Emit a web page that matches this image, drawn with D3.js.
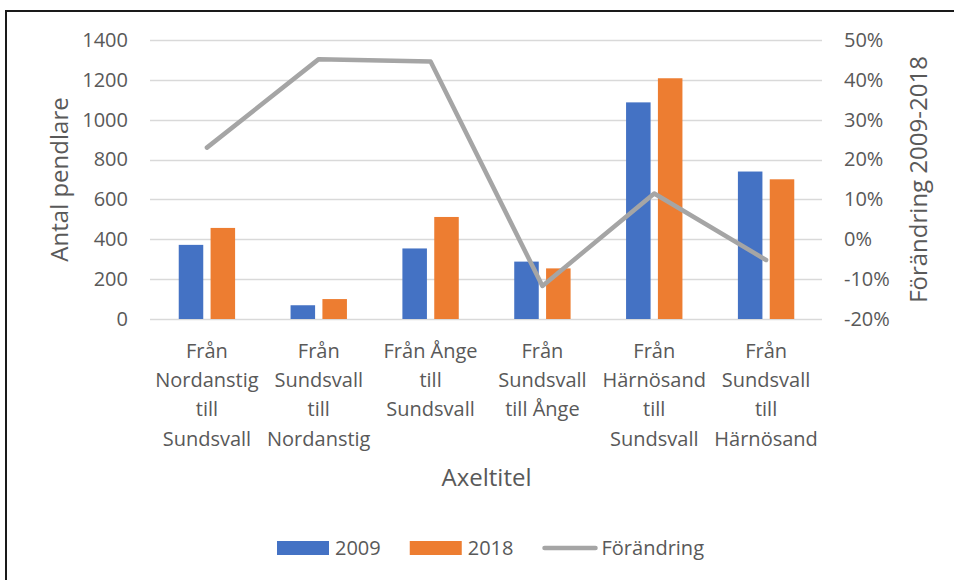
<!DOCTYPE html>
<html>
<head>
<meta charset="utf-8">
<style>
  body { margin: 0; background: #fff; }
  text { font-family: "Open Sans", sans-serif; fill: #595959; }
</style>
</head>
<body>
<svg id="chart" width="954" height="580"></svg>
<script src="https://d3js.org/d3.v7.min.js"></script>
<script>

var categories = [
  ["Från", "Nordanstig", "till", "Sundsvall"],
  ["Från", "Sundsvall", "till", "Nordanstig"],
  ["Från Ånge", "till", "Sundsvall"],
  ["Från", "Sundsvall", "till Ånge"],
  ["Från", "Härnösand", "till", "Sundsvall"],
  ["Från", "Sundsvall", "till", "Härnösand"]
];
var series = ["2009", "2018"];
var values2009 = [372, 69, 354, 288, 1087, 740];
var values2018 = [457, 100, 512, 254, 1208, 701];
var change = [0.23, 0.452, 0.446, -0.117, 0.115, -0.052];
var leftTicks = [0, 200, 400, 600, 800, 1000, 1200, 1400];
var rightTicks = [-0.2, -0.1, 0, 0.1, 0.2, 0.3, 0.4, 0.5];

var colors = { "2009": "#4472C4", "2018": "#ED7D31" },
    lineColor = "#A5A5A5";

var plotLeft = 151, plotRight = 822, plotTop = 40, plotBottom = 319;

var svg = d3.select("#chart");

// frame
svg.append("rect")
    .attr("x", 6).attr("y", 11)
    .attr("width", 1000).attr("height", 700)
    .attr("fill", "none")
    .attr("stroke", "#1a1a1a")
    .attr("stroke-width", 2);

var idx = d3.range(categories.length);

var x0 = d3.scaleBand()
    .domain(idx)
    .range([plotLeft, plotRight])
    .paddingInner(0.496)
    .paddingOuter(0.248);

var x1 = d3.scaleBand()
    .domain(series)
    .range([0, x0.bandwidth()])
    .paddingInner(0.23);

var y = d3.scaleLinear().domain([0, 1400]).range([plotBottom, plotTop]);
var y2 = d3.scaleLinear().domain([-0.2, 0.5]).range([plotBottom, plotTop]);

// gridlines
svg.append("g").selectAll("line")
    .data(leftTicks)
  .enter().append("line")
    .attr("x1", plotLeft - 1).attr("x2", plotRight)
    .attr("y1", function(d) { return Math.round(y(d)) + 0.5; })
    .attr("y2", function(d) { return Math.round(y(d)) + 0.5; })
    .attr("stroke", "#D9D9D9")
    .attr("stroke-width", 1.3);

// left axis
var yAxis = svg.append("g")
    .attr("transform", "translate(128,0)")
    .call(d3.axisLeft(y).tickValues(leftTicks).tickSize(0).tickPadding(0)
      .tickFormat(d3.format("d")));
yAxis.select(".domain").remove();
yAxis.selectAll("text").style("font-size", "20px").attr("fill", "#595959")
    .attr("font-family", null);

// right axis
var yAxis2 = svg.append("g")
    .attr("transform", "translate(844,0)")
    .call(d3.axisRight(y2).tickValues(rightTicks).tickSize(0).tickPadding(0)
      .tickFormat(function(d) { return Math.round(d * 100) + "%"; }));
yAxis2.select(".domain").remove();
yAxis2.selectAll("text").style("font-size", "20px").attr("fill", "#595959")
    .attr("font-family", null);

// bars
var rows = idx.map(function(i) {
  return [{ s: "2009", v: values2009[i] }, { s: "2018", v: values2018[i] }];
});

svg.append("g").selectAll("g")
    .data(rows)
  .enter().append("g")
    .attr("transform", function(d, i) { return "translate(" + x0(i) + ",0)"; })
  .selectAll("rect")
    .data(function(d) { return d; })
  .enter().append("rect")
    .attr("x", function(d) { return x1(d.s); })
    .attr("y", function(d) { return y(d.v); })
    .attr("width", x1.bandwidth())
    .attr("height", function(d) { return y(0) - y(d.v); })
    .attr("fill", function(d) { return colors[d.s]; });

// change line
var line = d3.line()
    .x(function(d, i) { return x0(i) + x0.bandwidth() / 2; })
    .y(function(d) { return y2(d); });

svg.append("path")
    .datum(change)
    .attr("d", line)
    .attr("fill", "none")
    .attr("stroke", lineColor)
    .attr("stroke-width", 4.5)
    .attr("stroke-linecap", "round")
    .attr("stroke-linejoin", "round");

// category labels
svg.append("g").selectAll("text")
    .data(categories)
  .enter().append("text")
    .attr("text-anchor", "middle")
    .style("font-size", "20px")
    .each(function(d, i) {
      var t = d3.select(this);
      d.forEach(function(line, j) {
        t.append("tspan")
            .attr("x", x0(i) + x0.bandwidth() / 2)
            .attr("y", 358 + j * 29.2)
            .text(line);
      });
    });

// axis titles
svg.append("text")
    .attr("x", (plotLeft + plotRight) / 2)
    .attr("y", 486)
    .attr("text-anchor", "middle")
    .style("font-size", "24px")
    .text("Axeltitel");

svg.append("text")
    .attr("transform", "translate(68," + (plotTop + plotBottom) / 2 + ") rotate(-90)")
    .attr("text-anchor", "middle")
    .style("font-size", "24px")
    .text("Antal pendlare");

svg.append("text")
    .attr("transform", "translate(927," + (plotTop + plotBottom) / 2 + ") rotate(-90)")
    .attr("text-anchor", "middle")
    .style("font-size", "24px")
    .text("Förändring 2009-2018");

// legend
var legendItems = [
  { name: "2009", type: "bar", color: colors["2009"] },
  { name: "2018", type: "bar", color: colors["2018"] },
  { name: "Förändring", type: "line", color: lineColor }
];

var legend = svg.append("g");
var lx = 0;
legendItems.forEach(function(item) {
  var g = legend.append("g").attr("transform", "translate(" + lx + ",0)");
  if (item.type === "bar") {
    g.append("rect")
        .attr("x", 0).attr("y", -7)
        .attr("width", 52).attr("height", 14)
        .attr("fill", item.color);
  } else {
    g.append("line")
        .attr("x1", 2).attr("x2", 53)
        .attr("y1", 0).attr("y2", 0)
        .attr("stroke", item.color)
        .attr("stroke-width", 4.5)
        .attr("stroke-linecap", "round");
  }
  var tx = item.type === "bar" ? 58 : 59;
  var t = g.append("text")
      .attr("x", tx).attr("y", 7)
      .style("font-size", "20px")
      .text(item.name);
  lx += tx + t.node().getComputedTextLength() + 29;
});
var legendWidth = lx - 29;
legend.attr("transform", "translate(" + (490.5 - legendWidth / 2) + ",548)");

</script>
</body>
</html>
